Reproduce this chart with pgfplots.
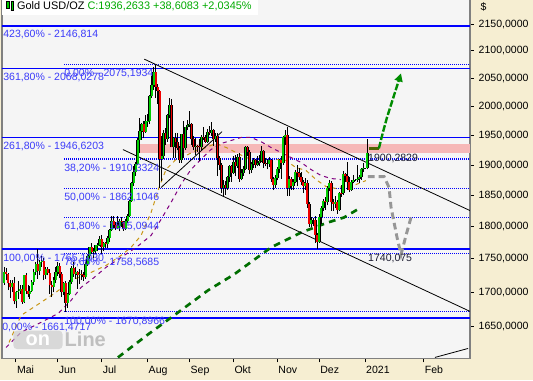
\documentclass[border=0pt]{standalone}
\usepackage{fontspec}
\setmainfont{Liberation Sans}
\usepackage{pgfplots}
\usepackage{pgfplotstable}
\pgfplotsset{compat=1.18}
\usetikzlibrary{arrows.meta}
\definecolor{plotbg}{RGB}{245,245,245}
\definecolor{beige}{RGB}{246,238,210}
\definecolor{fibblue}{RGB}{0,0,255}
\definecolor{fibtext}{RGB}{60,60,250}
\definecolor{pinkband}{RGB}{246,184,184}
\definecolor{cgreen}{RGB}{0,205,0}
\definecolor{cred}{RGB}{240,0,0}
\definecolor{maorange}{RGB}{200,150,20}
\definecolor{mapurple}{RGB}{128,0,128}
\definecolor{dgreen}{RGB}{0,110,0}
\definecolor{agreen}{RGB}{0,140,0}
\definecolor{olive}{RGB}{80,100,0}
\definecolor{fgray}{RGB}{150,150,150}
\definecolor{titlegreen}{RGB}{0,170,0}
\definecolor{annot}{RGB}{30,30,50}
\newcommand\lab{\fontsize{7.9}{9}\selectfont}

\pgfplotstableread{
i o h l c
0 1714 1738 1711 1731
4 1707 1718 1700 1713
6 1686 1702 1677 1700
7 1700 1716 1690 1702
8 1702 1711 1697 1705
10 1685 1726 1684 1725
13 1697 1709 1690 1702
14 1702 1718 1700 1715
15 1715 1734 1711 1730
16 1730 1745 1725 1743
18 1732 1748 1726 1745
19 1745 1754 1738 1747
21 1725 1738 1720 1735
25 1708 1722 1700 1718
26 1718 1738 1713 1730
27 1730 1745 1724 1740
30 1700 1715 1695 1713
32 1684 1699 1677 1698
33 1698 1718 1695 1715
34 1715 1739 1712 1737
36 1727 1738 1720 1730
38 1725 1735 1712 1727
41 1722 1745 1720 1743
42 1743 1757 1740 1754
43 1754 1769 1750 1768
45 1761 1767 1752 1763
46 1763 1772 1757 1771
47 1771 1775 1762 1772
48 1772 1785 1770 1781
50 1769 1776 1762 1775
52 1773 1786 1767 1783
53 1783 1797 1776 1795
54 1795 1818 1793 1810
57 1798 1818 1797 1802
58 1802 1812 1793 1810
61 1796 1812 1795 1810
62 1810 1820 1806 1818
63 1818 1843 1816 1842
64 1842 1872 1840 1871
65 1871 1898 1865 1889
66 1889 1905 1882 1902
67 1902 1945 1900 1942
68 1942 1981 1920 1958
69 1958 1971 1943 1970
71 1957 1985 1955 1975
72 1975 1987 1965 1976
73 1976 2021 1970 2019
74 2019 2055 2015 2038
75 2038 2070 2030 2062
79 1911 1950 1874 1915
80 1915 1960 1910 1954
82 1944 1988 1940 1985
83 1985 2015 1980 2003
85 1930 1948 1912 1946
89 1908 1953 1904 1953
91 1928 1965 1926 1964
92 1964 1978 1960 1968
93 1968 1992 1964 1970
96 1931 1946 1918 1933
99 1930 1952 1925 1947
102 1940 1962 1938 1956
104 1954 1973 1950 1960
106 1944 1955 1940 1950
110 1863 1875 1848 1868
112 1862 1883 1859 1881
113 1881 1900 1872 1898
115 1887 1916 1885 1906
117 1899 1919 1895 1914
119 1877 1893 1875 1887
120 1887 1899 1883 1894
121 1894 1933 1892 1930
124 1892 1905 1887 1902
125 1902 1912 1895 1908
127 1900 1916 1898 1904
128 1904 1918 1899 1907
129 1907 1932 1906 1924
132 1902 1911 1893 1902
133 1902 1914 1897 1908
136 1868 1884 1862 1879
137 1879 1897 1875 1894
138 1894 1911 1887 1908
140 1904 1950 1900 1948
141 1948 1960 1935 1951
143 1862 1882 1850 1877
145 1866 1878 1860 1873
146 1873 1892 1870 1888
151 1866 1879 1860 1871
154 1805 1815 1800 1811
155 1811 1814 1801 1811
158 1777 1820 1775 1815
159 1815 1833 1805 1830
160 1830 1845 1825 1841
162 1839 1866 1834 1863
163 1863 1875 1857 1871
166 1837 1850 1830 1840
168 1827 1856 1826 1855
170 1854 1890 1852 1886
174 1860 1876 1858 1873
175 1873 1884 1870 1876
176 1876 1877 1874 1876
177 1876 1900 1872 1877
178 1877 1884 1871 1880
179 1880 1896 1876 1893
180 1893 1904 1889 1895
181 1895 1896 1894 1895
182 1895 1944 1893 1921
}\greendata

\pgfplotstableread{
i o h l c
1 1731 1737 1718 1727
2 1727 1728 1703 1713
3 1713 1718 1691 1707
5 1713 1722 1682 1686
9 1705 1710 1683 1685
11 1725 1728 1697 1702
12 1702 1711 1692 1697
17 1743 1765 1720 1732
20 1747 1751 1718 1725
22 1735 1738 1725 1728
23 1728 1735 1697 1710
24 1710 1717 1693 1708
28 1740 1744 1721 1727
29 1727 1730 1693 1700
31 1713 1716 1671 1684
35 1737 1745 1723 1727
37 1730 1732 1705 1725
39 1727 1733 1718 1726
40 1726 1731 1717 1722
44 1768 1775 1757 1761
49 1781 1788 1757 1769
51 1775 1777 1767 1773
55 1810 1818 1798 1803
56 1803 1808 1795 1798
59 1810 1816 1800 1807
60 1807 1809 1794 1796
70 1970 1975 1945 1957
76 2062 2075 2015 2035
77 2035 2040 2005 2028
78 2028 2030 1863 1911
81 1954 1963 1935 1944
84 2003 2014 1930 1930
86 1946 1955 1912 1940
87 1940 1955 1925 1929
88 1929 1933 1904 1908
90 1953 1975 1912 1928
94 1970 1971 1935 1944
95 1944 1950 1925 1931
97 1933 1935 1922 1932
98 1932 1944 1907 1930
100 1947 1965 1943 1945
101 1945 1952 1938 1940
103 1956 1966 1951 1954
105 1960 1962 1932 1944
107 1950 1955 1882 1912
108 1912 1916 1892 1900
109 1900 1903 1855 1863
111 1868 1874 1851 1862
114 1898 1900 1873 1887
116 1906 1918 1882 1899
118 1914 1921 1873 1877
122 1930 1933 1916 1922
123 1922 1925 1885 1892
126 1908 1911 1895 1900
130 1924 1926 1895 1904
131 1904 1912 1898 1902
134 1908 1910 1872 1877
135 1877 1880 1859 1868
139 1908 1915 1878 1904
142 1951 1965 1850 1862
144 1877 1881 1860 1866
147 1888 1900 1865 1887
148 1887 1895 1876 1880
149 1880 1888 1868 1872
150 1872 1875 1855 1866
152 1871 1876 1830 1837
153 1837 1839 1800 1805
156 1811 1818 1775 1788
157 1788 1790 1765 1777
161 1841 1848 1827 1839
164 1871 1874 1826 1839
165 1839 1845 1825 1837
167 1840 1843 1821 1827
169 1855 1867 1848 1854
171 1886 1887 1873 1882
172 1882 1906 1859 1872
173 1872 1880 1856 1860
}\reddata

\pgfplotsset{
  cstick/.style={draw=none, mark=none, forget plot,
    error bars/.cd, y dir=plus, y explicit, error mark=none,
    error bar style={solid, line cap=butt, #1}},
  solidfib/.style={fibblue, line width=1.1pt, forget plot},
  dotfib/.style={fibblue, line width=0.85pt, dash pattern=on 0.75pt off 0.75pt, forget plot},
}

\begin{document}
\begin{tikzpicture}[x=0.75pt,y=0.75pt]
\useasboundingbox (0,0) rectangle (533,380);
\fill[beige] (0,0) rectangle (533,380);
\begin{axis}[
  at={(1,19)}, anchor=south west, scale only axis,
  width=351pt, height=270.75pt,
  xmin=-1.02, xmax=233.57,
  ymin=7.380255, ymax=7.696667,
  axis background/.style={fill=plotbg},
  axis line style={draw=gray, line width=1pt},
  xtick={6,27,49,72,93,115,137,158,181,210.4},
  xticklabels={Mai,Jun,Jul,Aug,Sep,Okt,Nov,Dez,2021,Feb},
  xtick pos=bottom,
  ytick={7.408530,7.438383,7.467371,7.495542,7.522940,7.549609,7.575584,7.600902,7.625595,7.649693,7.673223},
  yticklabels={{1650,0000},{1700,0000},{1750,0000},{1800,0000},{1850,0000},{1900,0000},{1950,0000},{2000,0000},{2050,0000},{2100,0000},{2150,0000}},
  minor y tick num=4,
  ytick pos=right, yticklabel pos=right,
  tick align=outside,
  major tick length=3pt, minor tick length=1.5pt,
  tick style={black, line width=0.75pt},
  ticklabel style={font=\lab, text=black},
  xticklabel style={anchor=north west, inner sep=0pt, xshift=0.6pt, yshift=-2.5pt},
  ylabel={\$},
  every axis y label/.style={at={(axis description cs:1,1)}, anchor=west, xshift=4.5pt, yshift=-7.5pt, font=\lab},
]
% resistance band 1919.6 - 1935.4
\fill[pinkband] (axis cs:68.3,7.559872) rectangle (axis cs:240,7.568069);

% Fibonacci extension levels (solid)
\addplot[solidfib] table[x=x, y expr=ln(\thisrow{p})] {
x p
-5 2146.814
240 2146.814
};
\addplot[solidfib] table[x=x, y expr=ln(\thisrow{p})] {
x p
-5 2068.0278
240 2068.0278
};
\addplot[solidfib] table[x=x, y expr=ln(\thisrow{p})] {
x p
-5 1946.6203
240 1946.6203
};
\addplot[solidfib] table[x=x, y expr=ln(\thisrow{p})] {
x p
-5 1765.10
240 1765.10
};
\addplot[solidfib] table[x=x, y expr=ln(\thisrow{p})] {
x p
-5 1661.4717
240 1661.4717
};
% Fibonacci retracement levels (dotted)
\addplot[dotfib] table[x=x, y expr=ln(\thisrow{p})] {
x p
30.1 2075.1934
240 2075.1934
};
\addplot[dotfib] table[x=x, y expr=ln(\thisrow{p})] {
x p
30.1 1910.3324
240 1910.3324
};
\addplot[dotfib] table[x=x, y expr=ln(\thisrow{p})] {
x p
30.1 1862.1046
240 1862.1046
};
\addplot[dotfib] table[x=x, y expr=ln(\thisrow{p})] {
x p
30.1 1815.0944
240 1815.0944
};
\addplot[dotfib] table[x=x, y expr=ln(\thisrow{p})] {
x p
30.1 1758.5685
240 1758.5685
};
\addplot[dotfib] table[x=x, y expr=ln(\thisrow{p})] {
x p
30.1 1670.8966
240 1670.8966
};

% moving averages
\addplot[maorange, line width=0.75pt, dash pattern=on 3pt off 3pt, forget plot] table[x=x, y expr=ln(\thisrow{p})] {
x p
2.5 1626.6
8.5 1665.5
18.5 1684.6
26.0 1699.5
33.6 1717.4
43.6 1729.5
51.1 1740.2
58.6 1755.5
63.6 1767.8
68.7 1786.5
73.7 1822.9
77.7 1863.3
81.2 1892.9
86.2 1909.6
91.2 1916.3
96.2 1924.7
101.2 1929.8
106.2 1936.5
111.3 1929.8
116.3 1921.3
121.3 1912.9
126.3 1907.9
131.3 1904.6
136.3 1909.6
141.3 1907.9
146.3 1896.3
151.4 1891.3
156.4 1876.4
161.4 1864.9
166.4 1861.7
171.4 1866.6
176.4 1868.3
181.4 1874.7
};
\addplot[mapurple, line width=0.75pt, dash pattern=on 3pt off 3pt, forget plot] table[x=x, y expr=ln(\thisrow{p})] {
x p
1.0 1619.5
8.5 1641.0
18.5 1655.4
27.1 1668.4
33.6 1687.6
38.6 1707.0
44.6 1720.5
51.1 1737.1
58.6 1752.4
66.2 1767.8
73.7 1786.5
78.7 1811.8
83.7 1838.9
88.7 1868.2
93.7 1892.9
98.7 1909.6
103.7 1926.4
108.8 1936.5
113.8 1941.7
118.8 1946.8
123.8 1946.8
128.8 1939.9
133.8 1929.8
138.8 1921.3
143.8 1912.9
148.9 1904.6
153.9 1892.9
158.9 1883.0
163.9 1878.1
168.9 1876.4
};

% long-term dashed line
\addplot[dgreen, line width=2pt, dash pattern=on 5pt off 4pt, forget plot] table[x=x, y expr=ln(\thisrow{p})] {
x p
57.1 1605.4
72.2 1638.1
87.2 1669.9
102.2 1702.5
115.3 1726.5
133.8 1767.8
148.9 1791.2
162.4 1807.0
170.4 1815.0
178.9 1830.9
};

% channel and trend lines
\addplot[black, line width=0.6pt, forget plot] table[x=x, y expr=ln(\thisrow{p})] {
x p
70.3 2085.0
233.6 1826.1
};
\addplot[black, line width=0.6pt, forget plot] table[x=x, y expr=ln(\thisrow{p})] {
x p
59.6 1926.4
233.6 1671.4
};
\addplot[black, line width=0.6pt, forget plot] table[x=x, y expr=ln(\thisrow{p})] {
x p
78.7 1863.3
109.3 1957.0
};
\addplot[black, line width=0.6pt, forget plot] table[x=x, y expr=ln(\thisrow{p})] {
x p
216.0 1605.4
232.6 1618.1
};

% candles: lower and upper wicks (they stop at the body)
\addplot[cstick={draw=black, line width=0.7pt}] table[x=i, y expr=ln(\thisrow{l}), y error plus expr=ln(\thisrow{o})-ln(\thisrow{l})] {\greendata};
\addplot[cstick={draw=black, line width=0.7pt}] table[x=i, y expr=ln(\thisrow{c}), y error plus expr=ln(\thisrow{h})-ln(\thisrow{c})] {\greendata};
\addplot[cstick={draw=black, line width=0.7pt}] table[x=i, y expr=ln(\thisrow{l}), y error plus expr=ln(\thisrow{c})-ln(\thisrow{l})] {\reddata};
\addplot[cstick={draw=black, line width=0.7pt}] table[x=i, y expr=ln(\thisrow{o}), y error plus expr=ln(\thisrow{h})-ln(\thisrow{o})] {\reddata};
% bodies: black outline, coloured fill
\addplot[cstick={draw=black, line width=2.1pt}] table[x=i, y expr=ln(\thisrow{o}), y error plus expr=ln(\thisrow{c})-ln(\thisrow{o})] {\greendata};
\addplot[cstick={draw=black, line width=2.1pt}] table[x=i, y expr=ln(\thisrow{c}), y error plus expr=ln(\thisrow{o})-ln(\thisrow{c})] {\reddata};
\addplot[cstick={draw=cgreen, line width=1.3pt}] table[x=i, y expr=ln(\thisrow{o}), y error plus expr=ln(\thisrow{c})-ln(\thisrow{o})] {\greendata};
\addplot[cstick={draw=cred, line width=1.3pt}] table[x=i, y expr=ln(\thisrow{c}), y error plus expr=ln(\thisrow{o})-ln(\thisrow{c})] {\reddata};

% forecast paths
\addplot[fgray, line width=2.2pt, dash pattern=on 5pt off 3pt, forget plot] table[x=x, y expr=ln(\thisrow{p})] {
x p
182.4 1881.3
190.5 1881.3
193.0 1863.3
194.0 1830.9
195.5 1807.0
197.0 1783.4
199.0 1757.0
201.5 1786.5
204.0 1815.0
};
\addplot[olive, line width=2pt, forget plot] table[x=x, y expr=ln(\thisrow{p})] {
x p
182.9 1928.1
187.9 1928.1
};
\addplot[agreen, line width=1.8pt, dash pattern=on 5pt off 1.5pt, -{Triangle[length=6pt,width=6pt]}, forget plot] table[x=x, y expr=ln(\thisrow{p})] {
x p
187.9 1928.1
189.9 1955.3
191.96 1981.2
198.99 2059.1
};

% level labels
\node[anchor=west, inner sep=0pt, font=\lab, text=fibtext] at (axis cs:-0.5,7.663830) {423,60\% - 2146,814};
\node[anchor=west, inner sep=0pt, font=\lab, text=fibtext] at (axis cs:-0.5,7.626472) {361,80\% - 2068,0278};
\node[anchor=west, inner sep=0pt, font=\lab, text=fibtext] at (axis cs:-0.5,7.565948) {261,80\% - 1946,6203};
\node[anchor=west, inner sep=0pt, font=\lab, text=fibtext] at (axis cs:-0.5,7.468057) {100,00\% - 1765,1030};
\node[anchor=west, inner sep=0pt, font=\lab, text=fibtext] at (axis cs:-1.0,7.407560) {0,00\% - 1661,4717};
\node[anchor=west, inner sep=0pt, font=\lab, text=fibtext] at (axis cs:30.1,7.629489) {0,00\% - 2075,1934};
\node[anchor=west, inner sep=0pt, font=\lab, text=fibtext] at (axis cs:30.1,7.546709) {38,20\% - 1910,3324};
\node[anchor=west, inner sep=0pt, font=\lab, text=fibtext] at (axis cs:30.1,7.521155) {50,00\% - 1862,1046};
\node[anchor=west, inner sep=0pt, font=\lab, text=fibtext] at (axis cs:30.1,7.495542) {61,80\% - 1815,0944};
\node[anchor=west, inner sep=0pt, font=\lab, text=fibtext] at (axis cs:30.1,7.463936) {78,60\% - 1758,5685};
\node[anchor=west, inner sep=0pt, font=\lab, text=fibtext] at (axis cs:30.1,7.412760) {100,00\% - 1670,8966};
\node[anchor=west, inner sep=0pt, font=\lab, text=annot] at (axis cs:182.4,7.555068) {1900,2829};
\node[anchor=west, inner sep=0pt, font=\lab, text=annot] at (axis cs:182.4,7.467885) {1740,075};

% watermark
\node[fill=gray!40, rounded corners=3pt, minimum width=37pt, minimum height=14pt, inner sep=0pt, text=white, font=\fontsize{15}{15}\selectfont\bfseries, fill opacity=0.7, text opacity=1] at (axis cs:17.0,7.396457) {on};
\node[anchor=west, inner sep=0pt, text=gray!50, font=\fontsize{15}{15}\selectfont\bfseries] at (axis cs:30.3,7.396457) {Line};

% title box
\node[anchor=north west, fill=white, inner sep=0pt, minimum width=191.5pt, minimum height=12.75pt] at (axis description cs:0,1) {};
\node[anchor=west, inner sep=0pt, font=\fontsize{8.2}{9}\selectfont, xshift=3pt, yshift=-6.4pt] at (axis description cs:0,1) {%
{\setlength{\fboxsep}{0pt}\setlength{\fboxrule}{0.5pt}\raisebox{0.5pt}{\fcolorbox{black}{cgreen}{\rule{0pt}{5pt}\rule{1.4pt}{0pt}}}\hspace{0.8pt}\raisebox{-0.5pt}{\fcolorbox{black}{cgreen}{\rule{0pt}{6pt}\rule{1.4pt}{0pt}}}}%
\hspace{2.5pt}Gold USD/OZ \textcolor{titlegreen}{C:1936,2633 +38,6083 +2,0345\%}};
\end{axis}
\end{tikzpicture}
\end{document}
